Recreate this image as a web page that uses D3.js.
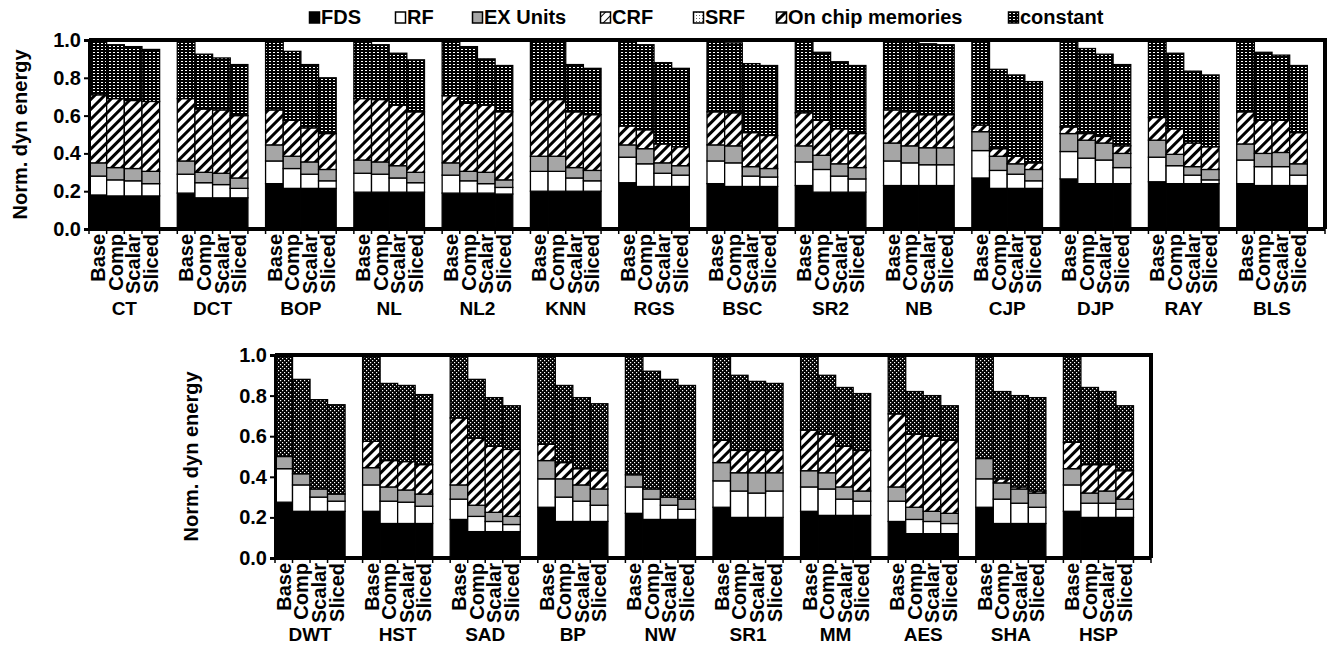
<!DOCTYPE html>
<html>
<head>
<meta charset="utf-8">
<script src="https://cdn.jsdelivr.net/npm/d3@7"></script>
<style>
	body { margin: 0; background: #fff; }
	svg { display: block; font-family: "Liberation Sans", Arial, sans-serif; font-weight: bold; }
</style>
</head>
<body>
<div id="chart"></div>
<script>
// categories
const topGroups = ["CT", "DCT", "BOP", "NL", "NL2", "KNN", "RGS", "BSC", "SR2", "NB", "CJP", "DJP", "RAY", "BLS"];
const bottomGroups = ["DWT", "HST", "SAD", "BP", "NW", "SR1", "MM", "AES", "SHA", "HSP"];
const variants = ["Base", "Comp", "Scalar", "Sliced"];
const seriesNames = ["FDS", "RF", "EX Units", "CRF", "SRF", "On chip memories", "constant"];
const yTicks = [0, 0.2, 0.4, 0.6, 0.8, 1.0];

// top panel, one row per group: [Base, Comp, Scalar, Sliced]
const fdsTop = [
	[0.18, 0.175, 0.175, 0.175], [0.19, 0.165, 0.165, 0.165], [0.24, 0.215, 0.215, 0.215],
	[0.195, 0.195, 0.195, 0.195], [0.19, 0.19, 0.19, 0.185], [0.2, 0.2, 0.2, 0.2],
	[0.245, 0.225, 0.225, 0.225], [0.24, 0.225, 0.225, 0.225], [0.23, 0.195, 0.195, 0.195],
	[0.23, 0.23, 0.23, 0.23], [0.27, 0.215, 0.215, 0.215], [0.265, 0.24, 0.24, 0.24],
	[0.25, 0.24, 0.24, 0.24], [0.24, 0.23, 0.23, 0.23]
];
const rfTop = [
	[0.1, 0.085, 0.08, 0.065], [0.1, 0.08, 0.07, 0.05], [0.12, 0.105, 0.075, 0.04],
	[0.1, 0.095, 0.075, 0.05], [0.095, 0.065, 0.05, 0.035], [0.105, 0.105, 0.07, 0.055],
	[0.135, 0.12, 0.07, 0.06], [0.12, 0.125, 0.055, 0.05], [0.125, 0.12, 0.085, 0.07],
	[0.13, 0.12, 0.11, 0.11], [0.145, 0.095, 0.075, 0.04], [0.145, 0.135, 0.125, 0.085],
	[0.13, 0.095, 0.045, 0.02], [0.125, 0.1, 0.1, 0.055]
];
const exTop = [
	[0.07, 0.065, 0.065, 0.065], [0.07, 0.055, 0.06, 0.055], [0.085, 0.065, 0.065, 0.06],
	[0.07, 0.065, 0.065, 0.055], [0.065, 0.05, 0.06, 0.04], [0.08, 0.08, 0.055, 0.055],
	[0.065, 0.08, 0.055, 0.05], [0.085, 0.09, 0.05, 0.045], [0.085, 0.075, 0.065, 0.06],
	[0.095, 0.09, 0.09, 0.09], [0.1, 0.075, 0.055, 0.06], [0.095, 0.095, 0.09, 0.075],
	[0.09, 0.06, 0.045, 0.055], [0.085, 0.07, 0.075, 0.06]
];
const crfTop = [
	[0, 0, 0, 0], [0, 0, 0, 0], [0, 0, 0, 0], [0, 0, 0, 0], [0, 0, 0, 0], [0, 0, 0, 0], [0, 0, 0, 0],
	[0, 0, 0, 0], [0, 0, 0, 0], [0, 0, 0, 0], [0, 0, 0, 0], [0, 0, 0, 0], [0, 0, 0, 0], [0, 0, 0, 0]
];
const srfTop = [
	[0, 0, 0, 0], [0, 0, 0, 0], [0, 0, 0, 0], [0, 0, 0, 0], [0, 0, 0, 0], [0, 0, 0, 0], [0, 0, 0, 0],
	[0, 0, 0, 0], [0, 0, 0, 0], [0, 0, 0, 0], [0, 0, 0, 0], [0, 0, 0, 0], [0, 0, 0, 0], [0, 0, 0, 0]
];
const chipTop = [
	[0.36, 0.365, 0.36, 0.37], [0.33, 0.335, 0.335, 0.33], [0.185, 0.19, 0.18, 0.19],
	[0.325, 0.33, 0.32, 0.32], [0.355, 0.36, 0.355, 0.36], [0.3, 0.3, 0.295, 0.295],
	[0.1, 0.1, 0.1, 0.1], [0.175, 0.175, 0.18, 0.175], [0.175, 0.185, 0.185, 0.18],
	[0.175, 0.18, 0.175, 0.175], [0.035, 0.04, 0.04, 0.035], [0.035, 0.035, 0.035, 0.04],
	[0.12, 0.135, 0.125, 0.12], [0.17, 0.175, 0.17, 0.165]
];
const constTop = [
	[0.29, 0.285, 0.285, 0.275], [0.31, 0.29, 0.275, 0.27], [0.37, 0.365, 0.335, 0.295],
	[0.31, 0.29, 0.275, 0.275], [0.295, 0.3, 0.245, 0.245], [0.315, 0.315, 0.25, 0.245],
	[0.455, 0.45, 0.43, 0.415], [0.38, 0.37, 0.365, 0.37], [0.385, 0.36, 0.355, 0.36],
	[0.37, 0.38, 0.375, 0.37], [0.45, 0.42, 0.43, 0.43], [0.46, 0.45, 0.435, 0.43],
	[0.41, 0.4, 0.38, 0.38], [0.38, 0.36, 0.345, 0.355]
];

// bottom panel
const fdsBottom = [
	[0.275, 0.23, 0.23, 0.23], [0.23, 0.17, 0.17, 0.17], [0.19, 0.13, 0.13, 0.13],
	[0.25, 0.18, 0.18, 0.18], [0.22, 0.19, 0.19, 0.19], [0.25, 0.2, 0.2, 0.2],
	[0.23, 0.21, 0.21, 0.21], [0.18, 0.12, 0.12, 0.12], [0.25, 0.17, 0.17, 0.17],
	[0.23, 0.2, 0.2, 0.2]
];
const rfBottom = [
	[0.165, 0.13, 0.07, 0.05], [0.13, 0.11, 0.105, 0.085], [0.1, 0.075, 0.05, 0.035],
	[0.14, 0.12, 0.1, 0.08], [0.13, 0.1, 0.07, 0.05], [0.13, 0.13, 0.12, 0.13],
	[0.12, 0.13, 0.08, 0.07], [0.1, 0.07, 0.06, 0.05], [0.14, 0.12, 0.1, 0.08],
	[0.13, 0.07, 0.07, 0.04]
];
const exBottom = [
	[0.06, 0.055, 0.04, 0.035], [0.085, 0.07, 0.06, 0.06], [0.07, 0.055, 0.045, 0.04],
	[0.09, 0.09, 0.08, 0.08], [0.06, 0.05, 0.04, 0.05], [0.09, 0.09, 0.1, 0.09],
	[0.08, 0.08, 0.06, 0.05], [0.07, 0.06, 0.05, 0.05], [0.1, 0.08, 0.07, 0.07],
	[0.08, 0.05, 0.06, 0.05]
];
const crfBottom = [
	[0, 0, 0, 0], [0, 0, 0, 0], [0, 0, 0, 0], [0, 0, 0, 0], [0, 0, 0, 0],
	[0, 0, 0, 0], [0, 0, 0, 0], [0, 0, 0, 0], [0, 0, 0, 0], [0, 0, 0, 0]
];
const srfBottom = [
	[0, 0, 0, 0], [0, 0, 0, 0], [0, 0, 0, 0], [0, 0, 0, 0], [0, 0, 0, 0],
	[0, 0, 0, 0], [0, 0, 0, 0], [0, 0, 0, 0], [0, 0, 0, 0], [0, 0, 0, 0]
];
const chipBottom = [
	[0, 0, 0, 0], [0.13, 0.13, 0.14, 0.145], [0.33, 0.33, 0.325, 0.33],
	[0.08, 0.08, 0.08, 0.09], [0, 0, 0, 0], [0.11, 0.11, 0.11, 0.11],
	[0.2, 0.19, 0.2, 0.2], [0.36, 0.36, 0.37, 0.36], [0, 0.02, 0.01, 0.01],
	[0.13, 0.14, 0.13, 0.14]
];
const constBottom = [
	[0.5, 0.465, 0.44, 0.44], [0.425, 0.38, 0.375, 0.345], [0.31, 0.29, 0.24, 0.215],
	[0.44, 0.38, 0.35, 0.33], [0.59, 0.58, 0.58, 0.56], [0.42, 0.37, 0.34, 0.33],
	[0.37, 0.29, 0.29, 0.28], [0.29, 0.21, 0.2, 0.17], [0.51, 0.43, 0.45, 0.46],
	[0.43, 0.38, 0.36, 0.32]
];

const W = 1330, H = 645;
const FONT = 20;

const svg = d3
	.select("#chart")
	.append("svg")
	.attr("width", W)
	.attr("height", H)
	.attr("viewBox", `0 0 ${W} ${H}`);

// fill patterns
const defs = svg.append("defs");

// constant, top panel: black with small white dashes
const pConst = defs.append("pattern")
	.attr("id", "pat-constant")
	.attr("patternUnits", "userSpaceOnUse")
	.attr("width", 4)
	.attr("height", 3);
pConst.append("rect").attr("width", 4).attr("height", 3).attr("fill", "#000");
pConst.append("rect").attr("x", 1).attr("y", 1).attr("width", 2).attr("height", 1).attr("fill", "#fff");

// constant, bottom panel: black with staggered dots
const pConst2 = defs.append("pattern")
	.attr("id", "pat-constant2")
	.attr("patternUnits", "userSpaceOnUse")
	.attr("width", 4)
	.attr("height", 4);
pConst2.append("rect").attr("width", 4).attr("height", 4).attr("fill", "#000");
pConst2.append("rect").attr("x", 0).attr("y", 0).attr("width", 1.2).attr("height", 1.2).attr("fill", "#fff");
pConst2.append("rect").attr("x", 2).attr("y", 2).attr("width", 1.2).attr("height", 1.2).attr("fill", "#fff");

const pChip = defs.append("pattern")
	.attr("id", "pat-chip")
	.attr("patternUnits", "userSpaceOnUse")
	.attr("width", 7)
	.attr("height", 7)
	.attr("patternTransform", "rotate(45)");
pChip.append("rect").attr("width", 7).attr("height", 7).attr("fill", "#fff");
pChip.append("rect").attr("width", 3).attr("height", 7).attr("fill", "#000");

const pCrf = defs.append("pattern")
	.attr("id", "pat-crf")
	.attr("patternUnits", "userSpaceOnUse")
	.attr("width", 6)
	.attr("height", 6)
	.attr("patternTransform", "rotate(45)");
pCrf.append("rect").attr("width", 6).attr("height", 6).attr("fill", "#fff");
pCrf.append("rect").attr("width", 1).attr("height", 6).attr("fill", "#000");

const pSrf = defs.append("pattern")
	.attr("id", "pat-srf")
	.attr("patternUnits", "userSpaceOnUse")
	.attr("width", 3)
	.attr("height", 3);
pSrf.append("rect").attr("width", 3).attr("height", 3).attr("fill", "#fff");
pSrf.append("rect").attr("width", 1).attr("height", 1).attr("fill", "#666");

const fills = {
	"FDS": "#000",
	"RF": "#fff",
	"EX Units": "#a6a6a6",
	"CRF": "url(#pat-crf)",
	"SRF": "url(#pat-srf)",
	"On chip memories": "url(#pat-chip)",
	"constant": "url(#pat-constant)",
};

// legend
const legendX = [309, 395, 472, 600, 693, 776, 1008];
const legend = svg.append("g").attr("class", "legend");
seriesNames.forEach((name, i) => {
	const g = legend.append("g").attr("transform", `translate(${legendX[i]}, 0)`);
	g.append("rect")
		.attr("x", 0.5)
		.attr("y", 12)
		.attr("width", 10)
		.attr("height", 11)
		.attr("fill", fills[name])
		.attr("stroke", "#000")
		.attr("stroke-width", 1.5);
	g.append("text")
		.attr("x", 12)
		.attr("y", 24)
		.attr("font-size", FONT)
		.text(name);
});

function drawPanel(cfg) {
	const layers = [cfg.fds, cfg.rf, cfg.ex, cfg.crf, cfg.srf, cfg.chip, cfg.constant];
	const panelFills = Object.assign({}, fills, cfg.fillOverride || {});

	// one row per bar, keyed by series name
	const rows = [];
	cfg.groups.forEach((group, gi) => {
		variants.forEach((variant, vi) => {
			const row = { group, variant };
			seriesNames.forEach((s, si) => (row[s] = layers[si][gi][vi]));
			rows.push(row);
		});
	});

	const stacked = d3.stack().keys(seriesNames)(rows);

	const x = d3.scaleBand().domain(cfg.groups).range([cfg.x0, cfg.x1]).paddingInner(0);
	// 4 bars + one empty slot per group
	const slot = x.bandwidth() / 5;
	const xb = d3.scaleBand().domain(variants).range([0, slot * 4]);
	const y = d3.scaleLinear().domain([0, 1]).range([cfg.y0, cfg.y1]);

	const panel = svg.append("g").attr("class", "panel");

	// bars
	const layerG = panel
		.selectAll("g.layer")
		.data(stacked)
		.join("g")
		.attr("class", "layer")
		.attr("fill", (d) => panelFills[d.key]);

	layerG
		.selectAll("rect")
		.data((d) => d.filter((p) => p[1] - p[0] > 0.0001))
		.join("rect")
		.attr("x", (d) => x(d.data.group) + xb(d.data.variant))
		.attr("y", (d) => y(d[1]))
		.attr("width", xb.bandwidth())
		.attr("height", (d) => y(d[0]) - y(d[1]))
		.attr("stroke", "#000")
		.attr("stroke-width", 1.3);

	// frame: top and right
	panel.append("path")
		.attr("d", `M${cfg.x0},${y(1)}H${cfg.x1}V${y(0)}`)
		.attr("fill", "none")
		.attr("stroke", "#000")
		.attr("stroke-width", 4);

	// x axis line + ticks on every slot edge
	const edges = [];
	cfg.groups.forEach((g) => {
		for (let k = 0; k < 5; k++) edges.push(x(g) + k * slot);
	});
	edges.push(cfg.x1);
	panel.append("line")
		.attr("x1", cfg.x0)
		.attr("x2", cfg.x1)
		.attr("y1", y(0))
		.attr("y2", y(0))
		.attr("stroke", "#000")
		.attr("stroke-width", 4);
	panel.selectAll("line.xtick")
		.data(edges)
		.join("line")
		.attr("class", "xtick")
		.attr("x1", (d) => d)
		.attr("x2", (d) => d)
		.attr("y1", y(0))
		.attr("y2", y(0) + 5)
		.attr("stroke", "#000")
		.attr("stroke-width", 1.5);

	// y axis
	const yAxis = panel.append("g")
		.attr("transform", `translate(${cfg.x0}, 0)`)
		.call(d3.axisLeft(y).tickValues(yTicks).tickFormat(d3.format(".1f")).tickSize(5).tickPadding(3));
	yAxis.select(".domain").attr("stroke-width", 3);
	yAxis.selectAll(".tick line").attr("stroke-width", 2);
	yAxis.selectAll(".tick text")
		.attr("font-size", FONT)
		.attr("font-family", "Liberation Sans, Arial, sans-serif")
		.attr("font-weight", "bold")
		.attr("fill", "#000");

	panel.append("text")
		.attr("transform", `translate(${cfg.titleX}, ${(y(0) + y(1)) / 2}) rotate(-90)`)
		.attr("text-anchor", "middle")
		.attr("font-size", FONT)
		.text("Norm. dyn energy");

	// variant labels, rotated
	panel.selectAll("text.variant")
		.data(rows)
		.join("text")
		.attr("class", "variant")
		.attr("transform", (d) =>
			`translate(${x(d.group) + xb(d.variant) + xb.bandwidth() / 2}, ${y(0) + 5}) rotate(-90)`)
		.attr("text-anchor", "end")
		.attr("dy", "0.36em")
		.attr("font-size", FONT)
		.text((d) => d.variant);

	// group labels
	panel.selectAll("text.group")
		.data(cfg.groups)
		.join("text")
		.attr("class", "group")
		.attr("x", (g) => x(g) + slot * 2)
		.attr("y", cfg.labelY)
		.attr("text-anchor", "middle")
		.attr("font-size", 19)
		.text((g) => g);
}

drawPanel({
	groups: topGroups,
	fds: fdsTop, rf: rfTop, ex: exTop, crf: crfTop, srf: srfTop, chip: chipTop, constant: constTop,
	x0: 89, x1: 1325, y0: 229, y1: 40, titleX: 27, labelY: 315,
});

drawPanel({
	groups: bottomGroups,
	fds: fdsBottom, rf: rfBottom, ex: exBottom, crf: crfBottom, srf: srfBottom, chip: chipBottom, constant: constBottom,
	x0: 275, x1: 1151, y0: 558, y1: 355, titleX: 198, labelY: 641,
	fillOverride: { "constant": "url(#pat-constant2)" },
});
</script>
</body>
</html>
